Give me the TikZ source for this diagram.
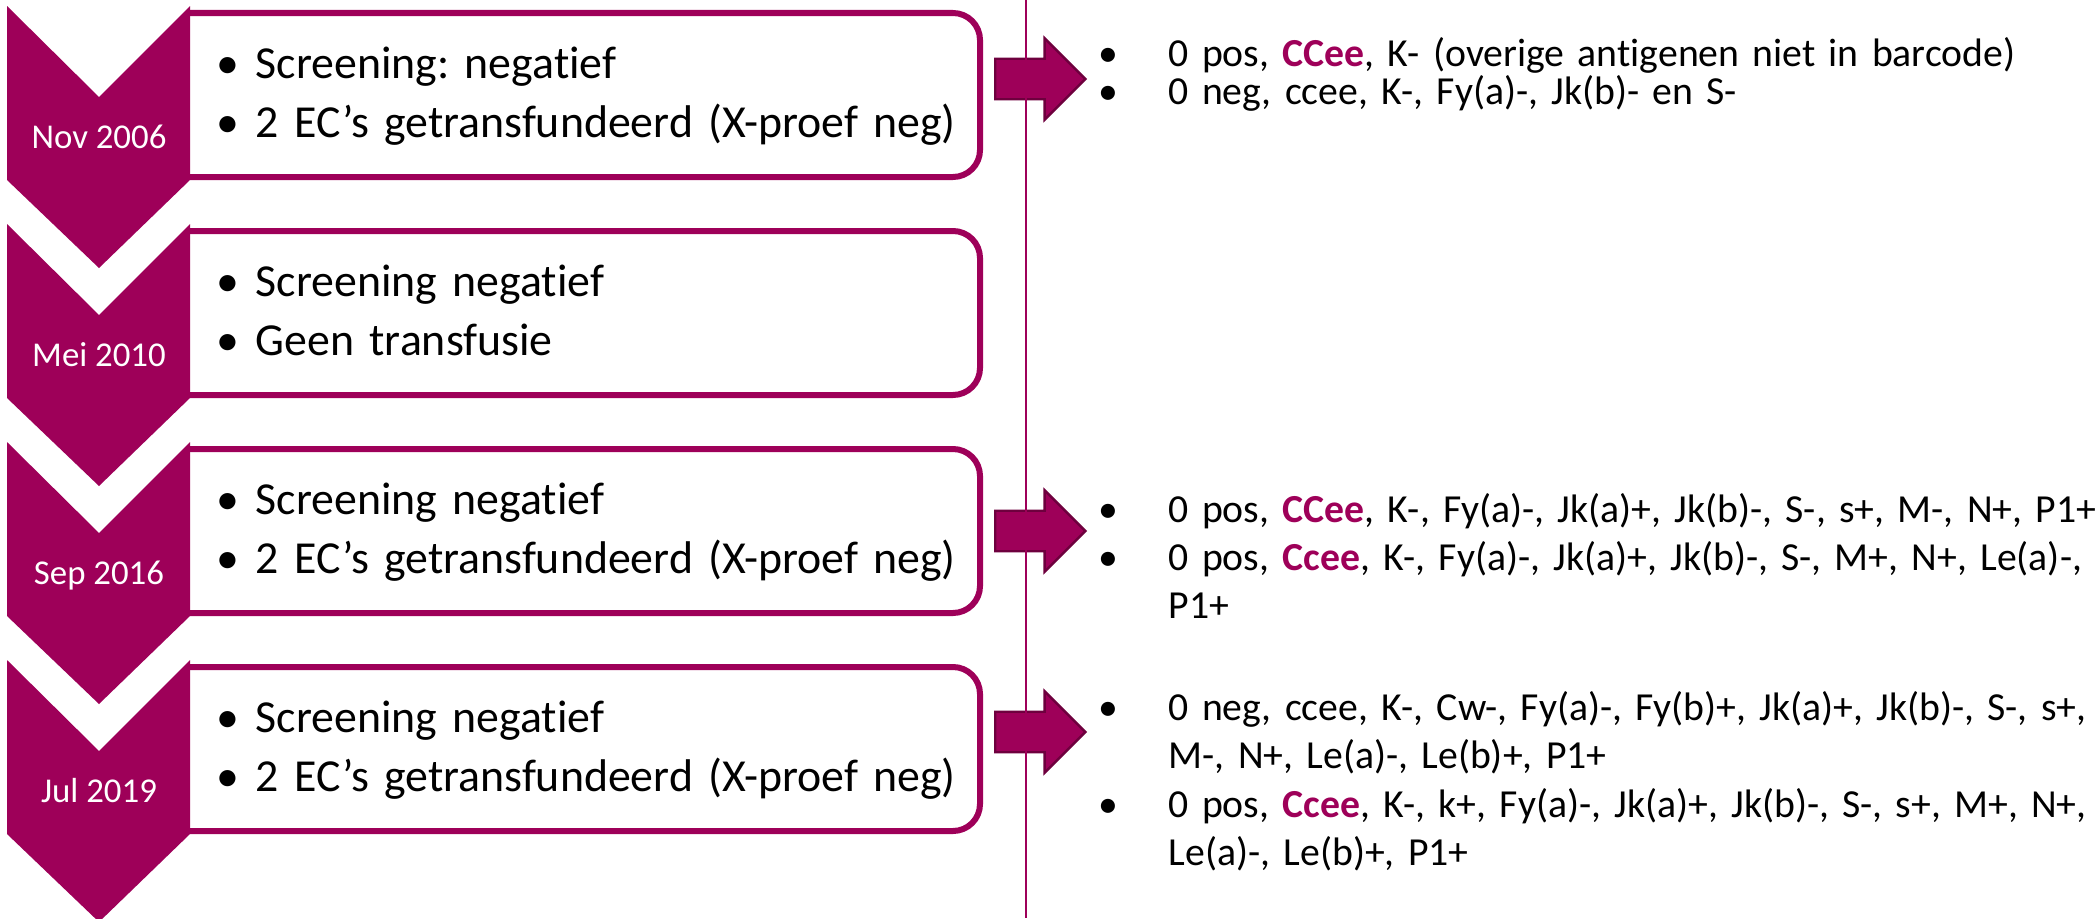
\documentclass[tikz,border=0pt]{standalone}
\usepackage{fontspec}
\setmainfont{Carlito}[Ligatures=NoCommon]
\usepackage{xcolor}
\usetikzlibrary{positioning,shapes.arrows}
\definecolor{plum}{HTML}{9E0059}
\definecolor{darkplum}{HTML}{6E003E}
\newcommand{\lbul}{\makebox[0.39cm][l]{\textbullet}}
\newcommand{\rbul}{\hangindent=0.7cm\hangafter=1\noindent\makebox[0.7cm][l]{\textbullet}}
\newcommand{\hl}[1]{\textbf{\textcolor{plum}{#1}}}
\frenchspacing

\begin{document}
\begin{tikzpicture}[
    x=0.01cm, y=-0.01cm,
    chevron/.style={fill=plum},
    entrybox/.style={draw=plum, line width=0.06cm, rounded corners=0.27cm},
    datelabel/.style={anchor=base, text=white, inner sep=0pt, font=\fontsize{9.9pt}{12pt}\selectfont},
    entrytext/.style={anchor=base west, text width=8cm, align=left, inner sep=0pt, font=\fontsize{13.03pt}{16.8pt}\selectfont},
    resulttext/.style={anchor=base west, text width=10.5cm, align=left, inner sep=0pt, font=\fontsize{11.3pt}{13.66pt}\selectfont},
    blockarrow/.style={single arrow, anchor=tail, fill=plum, draw=darkplum, line width=0.7pt, minimum height=0.9cm, inner xsep=0pt, inner ysep=0.19cm, single arrow head extend=0.205cm}
]
\useasboundingbox (0,0) rectangle (2100,918);

% boxes
\draw[entrybox] (190,13) -- (980,13) -- (980,177) -- (190,177);
\draw[entrybox] (190,231) -- (980,231) -- (980,395) -- (190,395);
\draw[entrybox] (190,449) -- (980,449) -- (980,613) -- (190,613);
\draw[entrybox] (190,667) -- (980,667) -- (980,831) -- (190,831);

% chevrons
\fill[chevron] (7,6) -- (99,97) -- (190,6) -- (190,180) -- (99,268) -- (7,180) -- cycle;
\fill[chevron] (7,224) -- (99,315) -- (190,224) -- (190,398) -- (99,486) -- (7,398) -- cycle;
\fill[chevron] (7,442) -- (99,533) -- (190,442) -- (190,616) -- (99,704) -- (7,616) -- cycle;
\fill[chevron] (7,660) -- (99,751) -- (190,660) -- (190,834) -- (99,922) -- (7,834) -- cycle;

\node[datelabel] (date_nov2006) at (99,148) {Nov 2006};
\node[datelabel] (date_mei2010) at (99,366) {Mei 2010};
\node[datelabel] (date_sep2016) at (99,584) {Sep 2016};
\node[datelabel] (date_jul2019) at (99,802) {Jul 2019};

\node[entrytext] (entry_nov2006) at (216,78) {\lbul Screening: negatief\newline\lbul 2 EC’s getransfundeerd (X-proef neg)};
\node[entrytext] (entry_mei2010) at (216,296) {\lbul Screening negatief\newline\lbul Geen transfusie};
\node[entrytext] (entry_sep2016) at (216,514) {\lbul Screening negatief\newline\lbul 2 EC’s getransfundeerd (X-proef neg)};
\node[entrytext] (entry_jul2019) at (216,732) {\lbul Screening negatief\newline\lbul 2 EC’s getransfundeerd (X-proef neg)};

% arrows and divider
\node[blockarrow] (arrow_nov2006) at (994,79) {};
\node[blockarrow] (arrow_sep2016) at (994,531) {};
\node[blockarrow] (arrow_jul2019) at (994,732) {};

\coordinate (divider_top) at (1026,0);
\coordinate (divider_bottom) at (1026,918);
\draw[plum, line width=0.02cm] (divider_top) -- (divider_bottom);

% results
\node[resulttext] (result_nov2006_a) at (1098,67) {\rbul 0 pos, \hl{CCee}, K- (overige antigenen niet in barcode)\par};
\node[resulttext] (result_nov2006_b) at (1098,104) {\rbul 0 neg, ccee, K-, Fy(a)-, Jk(b)- en S-\par};

\node[resulttext] (result_sep2016_a) at (1098,522) {\rbul 0 pos, \hl{CCee}, K-, Fy(a)-, Jk(a)+, Jk(b)-, S-, s+, M-, N+, P1+\par};
\node[resulttext] (result_sep2016_b) at (1098,570) {\rbul 0 pos, \hl{Ccee}, K-, Fy(a)-, Jk(a)+, Jk(b)-, S-, M+, N+, Le(a)-,\newline P1+\par};

\node[resulttext] (result_jul2019_a) at (1098,720) {\rbul 0 neg, ccee, K-, Cw-, Fy(a)-, Fy(b)+, Jk(a)+, Jk(b)-, S-, s+,\newline M-, N+, Le(a)-, Le(b)+, P1+\par};
\node[resulttext] (result_jul2019_b) at (1098,817) {\rbul 0 pos, \hl{Ccee}, K-, k+, Fy(a)-, Jk(a)+, Jk(b)-, S-, s+, M+, N+,\newline Le(a)-, Le(b)+, P1+\par};

\end{tikzpicture}
\end{document}
